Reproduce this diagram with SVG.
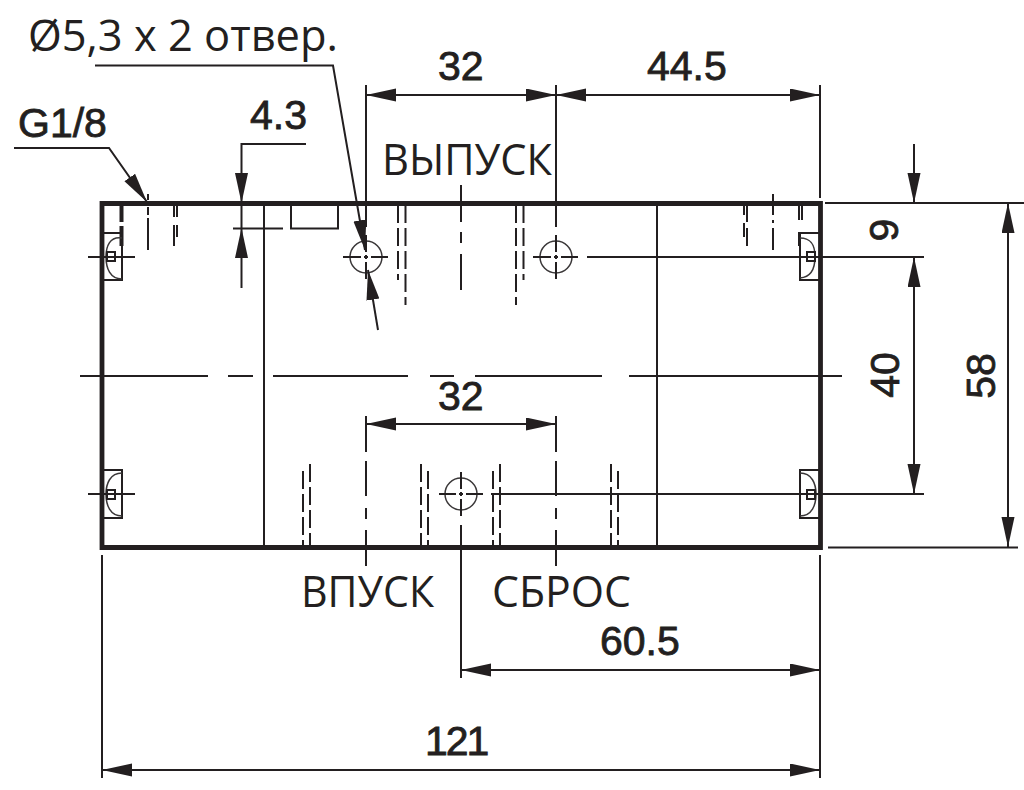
<svg xmlns="http://www.w3.org/2000/svg" width="1024" height="790" viewBox="0 0 1024 790">
<style>
.l{stroke:#231f20;stroke-width:2;fill:none}
.t{stroke:#3a3738;stroke-width:1.5;fill:none}
.o{stroke:#231f20;stroke-width:4.8;fill:none}
.d{stroke:#231f20;stroke-width:2;fill:none;stroke-dasharray:18 5}
text{fill:#231f20}
.b{font-family:"Liberation Sans",Arial,sans-serif;font-size:41px;stroke:#231f20;stroke-width:.8}
.r{font-family:"Open Sans","Noto Sans",sans-serif;font-size:44px}
</style>
<defs>
<marker id="a" markerUnits="userSpaceOnUse" markerWidth="32" markerHeight="14" refX="30" refY="6.500" orient="auto-start-reverse"><path d="M0 0L30 6.500L0 13z" fill="#231f20"/></marker>
</defs>
<rect width="1024" height="790" fill="#fff"/>
<g id="body">
<path class="o" d="M102 203.500H820.500V547.500H102Z"/>
<path class="l" d="M264 203V547M657 203V547M291 204V228.500H338V204"/>
</g>
<g id="hidden">
<path class="l" d="M120.500 205V222M120.500 226V246M122.500 205V222M122.500 226V246"/>
<path class="l" d="M148 194V200M148 207V215M148 218V250"/>
<path class="l" d="M174 206V217M174 225V246M177 206V217M177 225V237"/>
<path class="d" d="M398 205V280M405.500 205V305M516 205V305M523.500 205V280"/>
<path class="l" d="M461 185V222M461 232V243M461 254V290"/>
<path class="l" d="M744 205V215M744 223V237M747 205V222M747 228V246M773 194V215M773 220V223M773 228V250M799 205V220M799 232V246M802 205V220"/>
<path class="d" d="M303 471V547M310 464V547M421 464V547M428 471V547M493 471V547M500 464V547M611 464V547M618 471V547"/>
<path class="l" d="M366 416V452M366 461V496M366 508V519M366 530V566M556 416V452M556 461V496M556 508V519M556 530V566"/>
</g>
<g id="bolts">
<g id="clip-tl"><path class="l" d="M102 233H122V280H102"/><path class="t" d="M122 238C110 236 106 246 106 257C106 268 110 279 122 279"/><rect class="l" x="107" y="252" width="8" height="9"/><path class="l" d="M88 257H135"/></g>
<g id="clip-bl"><path class="l" d="M102 470H122V518H102"/><path class="t" d="M122 473C110 473 106 484 106 494C106 505 110 516 122 516"/><rect class="l" x="107" y="490" width="8" height="9"/><path class="l" d="M88 494H135"/></g>
<g id="clip-tr"><path class="l" d="M820 233H800V280H820"/><path class="t" d="M800 238C812 238 815 246 815 257C815 268 812 277 800 278"/><rect class="l" x="807" y="252" width="8" height="9"/></g>
<g id="clip-br"><path class="l" d="M820 470H800V518H820"/><path class="t" d="M800 473C812 473 816 484 816 494C816 505 812 516 800 516"/><rect class="l" x="807" y="490" width="8" height="9"/></g>
<g id="hole1"><circle class="t" cx="366" cy="257" r="16"/><path class="l" d="M343 257H361M364 257H368M371 257H388M366 235V252M366 255V259M366 262V279"/></g>
<g id="hole2"><circle class="t" cx="556" cy="257" r="16"/><path class="l" d="M533 257H551M554 257H558M561 257H578M556 235V252M556 255V259M556 262V279"/></g>
<g id="hole3"><circle class="t" cx="461" cy="494" r="16"/><path class="l" d="M439 494H456M459 494H463M466 494H483M461 472V489M461 492V496M461 499V516"/></g>
</g>
<g id="connectors">
<path class="l" d="M80 376H208M228 376H253M273 376H408M430 376H454M475 376H602M629 376H842"/>
<path class="l" d="M587 257H924M491 494H924M825 203H1024M828 547.500H1018"/>
<path class="l" d="M366 85V227M556 85V227M820 85V198M102 555V778M820 555V778M461 525V678M241.500 205V228"/>
<path class="l" marker-start="url(#a)" marker-end="url(#a)" d="M366 95H556"/>
<path class="l" marker-start="url(#a)" marker-end="url(#a)" d="M556 95H820"/>
<path class="l" marker-start="url(#a)" marker-end="url(#a)" d="M366 424H556"/>
<path class="l" marker-start="url(#a)" marker-end="url(#a)" d="M461 670H820"/>
<path class="l" marker-start="url(#a)" marker-end="url(#a)" d="M102 770H820"/>
<path class="l" marker-end="url(#a)" d="M914 144V203"/>
<path class="l" marker-start="url(#a)" marker-end="url(#a)" d="M914 257V494"/>
<path class="l" marker-start="url(#a)" marker-end="url(#a)" d="M1008 203V547"/>
<path class="l" marker-end="url(#a)" d="M306 144H241.500V203"/>
<path class="l" marker-end="url(#a)" d="M241.500 288V228"/>
<path class="l" d="M233 228.500H283"/>
<path class="l" marker-end="url(#a)" d="M14 148H109L147 202"/>
<path class="l" marker-end="url(#a)" d="M95 65.500H333L365 250"/>
<path class="l" marker-end="url(#a)" d="M378 330L368 270"/>
</g>
<g id="labels">
<text class="r" x="28" y="51" textLength="310" lengthAdjust="spacingAndGlyphs">Ø5,3 x 2 отвер.</text>
<text class="b" x="18" y="137">G1/8</text>
<text class="b" x="250" y="129">4.3</text>
<text class="b" x="438" y="80">32</text>
<text class="b" x="647" y="80">44.5</text>
<text class="r" x="382" y="175" textLength="170" lengthAdjust="spacingAndGlyphs">ВЫПУСК</text>
<text class="b" x="438" y="410">32</text>
<text class="r" x="301" y="607" textLength="133" lengthAdjust="spacingAndGlyphs">ВПУСК</text>
<text class="r" x="492" y="607" textLength="139" lengthAdjust="spacingAndGlyphs">СБРОС</text>
<text class="b" x="600" y="655">60.5</text>
<text class="b" x="425" y="755" letter-spacing="-2">121</text>
<text class="b" transform="translate(898,230) rotate(-90)" text-anchor="middle">9</text>
<text class="b" transform="translate(899,375) rotate(-90)" text-anchor="middle">40</text>
<text class="b" transform="translate(995,376) rotate(-90)" text-anchor="middle">58</text>
</g>
</svg>
